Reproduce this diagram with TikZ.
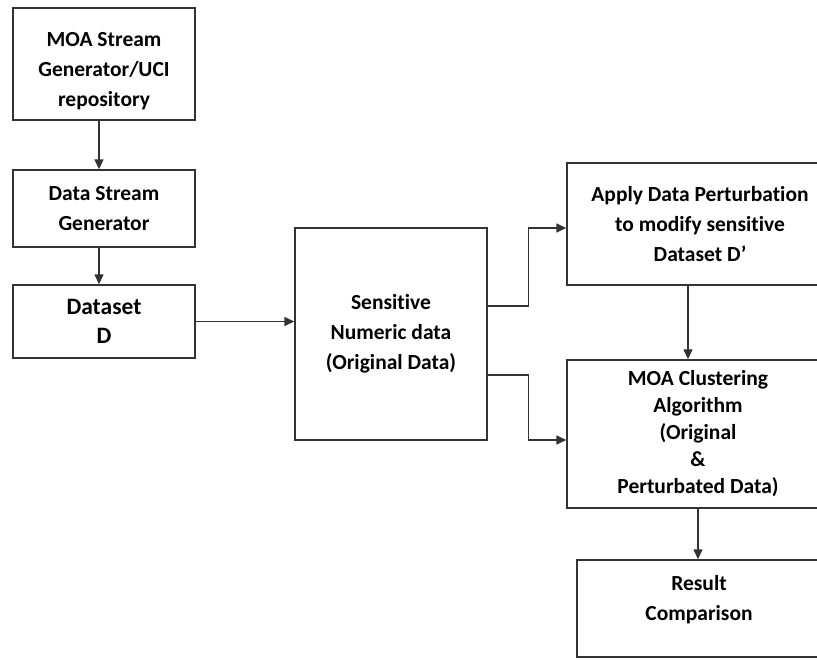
\documentclass[tikz,border=0pt]{standalone}
\usepackage{fontspec}
\setmainfont[Ligatures=NoCommon]{Carlito}
\usepackage{tikz}
\usetikzlibrary{arrows.meta, % for triangle tips
                calc}

\begin{document}
\begin{tikzpicture}[x=1pt, y=-1pt,
                    block/.style={draw, line width=1.4pt, draw=black!80, align=center,
                                  font=\fontsize{21.5}{30}\selectfont\bfseries, inner sep=0},
                    flow/.style={-{Triangle[length=10pt, width=9pt]}, line width=1.4pt, draw=black!80}
                    ]
    \clip (0,0) rectangle (817,659);
    % left column
    \node[block, minimum width=182, minimum height=112] at (104,64)    (moa) {\strut\\[-22pt]MOA Stream\\Generator/UCI\\repository};
    \node[block, minimum width=182, minimum height=77]  at (104,208.5) (gen) {Data Stream\\Generator};
    \node[block, minimum width=182, minimum height=73,
          font=\fontsize{23.5}{29}\selectfont\bfseries] at (104,321.5) (dset) {Dataset\\D};
    % middle
    \node[block, minimum width=192, minimum height=212] at (391,334) (sens) {Sensitive\\Numeric data\\(Original Data)};
    % right column
    \node[block, minimum width=266, minimum height=122] at (700,224)   (pert) {Apply Data Perturbation\\to modify sensitive\\Dataset D’};
    \node[block, minimum width=262, minimum height=148,
          font=\fontsize{21.5}{27}\selectfont\bfseries] at (698,434) (clus) {MOA Clustering\\Algorithm\\(Original\\\&\\Perturbated Data)};
    \node[block, minimum width=244, minimum height=97]  at (699,608.5) (res)  {Result\\Comparison\\[-18pt]\strut};

    % straight links
    \draw[flow] ([xshift=-5pt]moa.south) -- ([xshift=-5pt]gen.north);
    \draw[flow] ([xshift=-5pt]gen.south) -- ([xshift=-5pt]dset.north);
    \draw[flow] (dset.east) -- (dset.east -| sens.west);
    \draw[flow] ([xshift=-12pt]pert.south) -- ([xshift=-10pt]clus.north);
    \draw[flow] (clus.south) -- (clus.south |- res.north);

    % branches out of the sensitive data
    \draw[flow] ([yshift=28pt]sens.east)  -- ++(41,0) |- ([yshift=-4pt]pert.west);
    \draw[flow] ([yshift=-41pt]sens.east) -- ++(41,0) |- ([yshift=-6pt]clus.west);
\end{tikzpicture}
\end{document}
